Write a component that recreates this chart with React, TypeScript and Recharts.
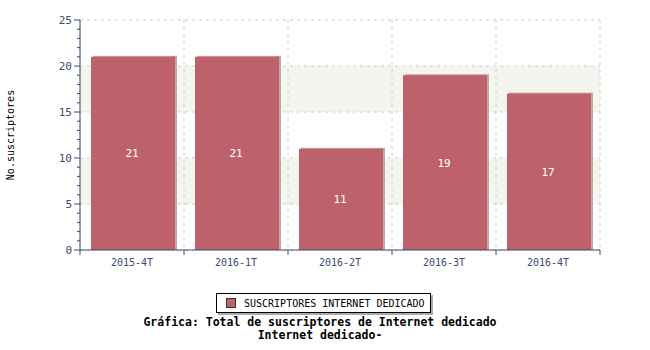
import React from 'react';
import { BarChart, Bar, XAxis, YAxis, CartesianGrid, LabelList } from 'recharts';

const categories = ['2015-4T', '2016-1T', '2016-2T', '2016-3T', '2016-4T'];
const values = [21, 21, 11, 19, 17];
const seriesName = 'SUSCRIPTORES INTERNET DEDICADO';
const yTicks = Array.from({ length: 26 }, (_, i) => i);
const yMax = 25;
const majorStep = 5;
const titleLine1 = 'Gráfica: Total de suscriptores de Internet dedicado';
const titleLine2 = 'Internet dedicado-';
const yLabel = 'No.suscriptores';

const data = categories.map((c, i) => ({ name: c, value: values[i] }));

const AXIS = '#3d4a72';
const BAR = '#bd616b';
const SHADOW = '#c9a2a7';
const MONO = '"DejaVu Sans Mono", monospace';

const BarShape = (props: any) => {
  const { x, y, width, height } = props;
  if (height <= 0) return null;
  const bx = x + 1;
  return (
    <g>
      <rect x={bx + 2} y={y - 1} width={width} height={height + 1} fill={SHADOW} />
      <rect x={bx} y={y} width={width} height={height} fill={BAR} />
    </g>
  );
};

const YTick = (props: any) => {
  const { x, y, payload } = props;
  const v = payload.value;
  const major = v % majorStep === 0;
  const ax = x + 8; // axis line position
  return (
    <g>
      <line x1={ax - (major ? 6 : 3)} x2={ax} y1={y} y2={y} stroke={AXIS} strokeWidth={1} />
      {major && (
        <text x={ax - 8} y={y} dy={4} textAnchor="end" fill={AXIS} fontFamily={MONO} fontSize={11}>
          {v}
        </text>
      )}
    </g>
  );
};

const XTick = (props: any) => {
  const { x, y, payload, index, width } = props;
  const w = typeof width === 'number' && width > 0 ? width : 520;
  const half = w / categories.length / 2;
  const top = y - 8;
  return (
    <g>
      <line x1={x - half} x2={x - half} y1={top} y2={top + 5} stroke={AXIS} />
      {index === categories.length - 1 && (
        <line x1={x + half} x2={x + half} y1={top} y2={top + 5} stroke={AXIS} />
      )}
      <text x={x} y={top + 16} textAnchor="middle" fill={AXIS} fontFamily={MONO} fontSize={10}>
        {payload.value}
      </text>
    </g>
  );
};

export default function App() {
  return (
    <div style={{ position: 'absolute', left: 0, top: 0, width: 650, height: 350, background: '#fff' }}>
      <BarChart
        width={650}
        height={350}
        data={data}
        margin={{ top: 20, right: 50, left: 0, bottom: 0 }}
        barSize={84}
      >
        <CartesianGrid
          stroke="#cccccc"
          strokeDasharray="3 4"
          horizontalFill={['transparent', '#f5f5f0']}
          fillOpacity={1}
          verticalCoordinatesGenerator={({ offset }: any) =>
            categories.map((_, i) => offset.left + (i * offset.width) / categories.length).concat([offset.left + offset.width])
          }
          horizontalCoordinatesGenerator={({ offset }: any) =>
            yTicks.filter((v) => v % majorStep === 0).map((v) => offset.top + offset.height * (1 - v / yMax))
          }
        />
        <XAxis
          dataKey="name"
          height={100}
          stroke={AXIS}
          tickLine={false}
          tick={<XTick />}
          interval={0}
        />
        <YAxis
          width={80}
          domain={[0, yMax]}
          ticks={yTicks}
          interval={0}
          stroke={AXIS}
          tickLine={false}
          tick={<YTick />}
          label={{
            value: yLabel,
            angle: -90,
            position: 'insideLeft',
            offset: 0,
            dx: 10,
            style: { fontFamily: MONO, fontSize: 10, fill: '#000', textAnchor: 'middle' },
          }}
        />
        <Bar dataKey="value" name={seriesName} fill={BAR} shape={<BarShape />} isAnimationActive={false}>
          <LabelList
            dataKey="value"
            position="center"
            fill="#fff"
            style={{ fontFamily: MONO, fontSize: 11 }}
          />
        </Bar>
      </BarChart>
      <div
        style={{
          position: 'absolute',
          left: 216,
          top: 293,
          width: 215,
          height: 20,
          border: '1px solid #000',
          background: '#fff',
          boxShadow: '2px 2px 0 #aaaaaa',
          boxSizing: 'border-box',
          display: 'flex',
          alignItems: 'center',
          fontFamily: MONO,
          fontSize: 10,
          color: '#000',
        }}
      >
        <div
          style={{
            width: 10,
            height: 10,
            background: BAR,
            border: '1px solid #333',
            marginLeft: 9,
            marginRight: 8,
            boxSizing: 'border-box',
          }}
        />
        <span>{seriesName}</span>
      </div>
      <div
        style={{
          position: 'absolute',
          left: 0,
          top: 316,
          width: 640,
          textAlign: 'center',
          fontFamily: MONO,
          fontWeight: 'bold',
          fontSize: 11.5,
          lineHeight: '13px',
          color: '#000',
        }}
      >
        <div>{titleLine1}</div>
        <div>{titleLine2}</div>
      </div>
    </div>
  );
}
